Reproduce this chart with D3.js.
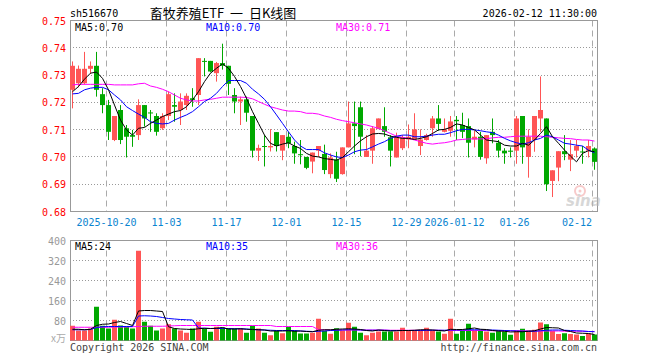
<!DOCTYPE html>
<html>
<head>
<meta charset="utf-8">
<script src="https://cdn.jsdelivr.net/npm/d3@7"></script>
<style>
  body { margin: 0; background: #fff; }
  svg text { font-family: "DejaVu Sans Mono", monospace; font-size: 10px; }
</style>
</head>
<body>
<svg id="chart" width="660" height="360"></svg>
<script>
// Trading days shown
const dates = [
  "2025-10-10","2025-10-13","2025-10-14","2025-10-15","2025-10-16","2025-10-17","2025-10-20","2025-10-21","2025-10-22","2025-10-23",
  "2025-10-24","2025-10-27","2025-10-28","2025-10-29","2025-10-30","2025-10-31","2025-11-03","2025-11-04","2025-11-05","2025-11-06",
  "2025-11-07","2025-11-10","2025-11-11","2025-11-12","2025-11-13","2025-11-14","2025-11-17","2025-11-18","2025-11-19","2025-11-20",
  "2025-11-21","2025-11-24","2025-11-25","2025-11-26","2025-11-27","2025-11-28","2025-12-01","2025-12-02","2025-12-03","2025-12-04",
  "2025-12-05","2025-12-08","2025-12-09","2025-12-10","2025-12-11","2025-12-12","2025-12-15","2025-12-16","2025-12-17","2025-12-18",
  "2025-12-19","2025-12-22","2025-12-23","2025-12-24","2025-12-25","2025-12-26","2025-12-29","2025-12-30","2025-12-31","2026-01-05",
  "2026-01-06","2026-01-07","2026-01-08","2026-01-09","2026-01-12","2026-01-13","2026-01-14","2026-01-15","2026-01-16","2026-01-19",
  "2026-01-20","2026-01-21","2026-01-22","2026-01-23","2026-01-26","2026-01-27","2026-01-28","2026-01-29","2026-01-30","2026-02-02",
  "2026-02-03","2026-02-04","2026-02-05","2026-02-06","2026-02-09","2026-02-10","2026-02-11","2026-02-12"
];

const open = [
  .7246,.7270,.7270,.7323,.7334,.7230,.7190,.7062,.7172,.7105,
  .7080,.7080,.7190,.7163,.7150,.7105,.7150,.7190,.7172,.7190,
  .7215,.7227,.7352,.7352,.7307,.7344,.7334,.7227,.7203,.7211,
  .7150,.7023,.7040,.7035,.7091,.7023,.7074,.7040,.7010,.7000,
  .6983,.7023,.7011,.6937,.6990,.6937,.7035,.7123,.7182,.7000,
  .7023,.7102,.7113,.7072,.6998,.7032,.7064,.7064,.7040,.7062,
  .7105,.7141,.7092,.7096,.7136,.7117,.7113,.7064,.7074,.6995,
  .7092,.7052,.7023,.7023,.7023,.7150,.7000,.7062,.7141,.7141,
  .6912,.6961,.7021,.6990,.7023,.7020,.7023,.7031
];
const high = [
  .7350,.7335,.7385,.7350,.7385,.7252,.7209,.7150,.7190,.7117,
  .7099,.7211,.7190,.7172,.7160,.7160,.7240,.7233,.7233,.7233,
  .7252,.7362,.7362,.7352,.7348,.7415,.7334,.7252,.7221,.7221,
  .7150,.7045,.7080,.7102,.7091,.7080,.7092,.7056,.7062,.7000,
  .7016,.7040,.7045,.7013,.7019,.7035,.7203,.7203,.7203,.7080,
  .7113,.7141,.7182,.7080,.7089,.7080,.7119,.7160,.7101,.7085,
  .7150,.7190,.7141,.7150,.7150,.7162,.7141,.7096,.7092,.7080,
  .7141,.7062,.7032,.7035,.7150,.7150,.7101,.7150,.7295,.7141,
  .6951,.7021,.7080,.7062,.7062,.7040,.7062,.7035
];
const low = [
  .7178,.7255,.7265,.7305,.7221,.7160,.7062,.7058,.7047,.6998,
  .7037,.7062,.7111,.7092,.7078,.7099,.7135,.7129,.7117,.7172,
  .7184,.7190,.7295,.7310,.7276,.7320,.7227,.7160,.7117,.7129,
  .6998,.6985,.6965,.7020,.7020,.6988,.7032,.6975,.6973,.6955,
  .6940,.7000,.6937,.6922,.6908,.6935,.7035,.7010,.7002,.7000,
  .6975,.7102,.7074,.6965,.6998,.7025,.7032,.7064,.7007,.7060,
  .7074,.7096,.7090,.7074,.7062,.7069,.6998,.7035,.6990,.6975,
  .7050,.6998,.6975,.6998,.6975,.6975,.6924,.7019,.7092,.6875,
  .6853,.6911,.6988,.6948,.6998,.6975,.6998,.6953
];
const close = [
  .7334,.7323,.7323,.7334,.7246,.7190,.7092,.7150,.7062,.7074,
  .7074,.7190,.7141,.7160,.7092,.7150,.7230,.7184,.7203,.7224,
  .7209,.7362,.7350,.7313,.7344,.7334,.7268,.7203,.7211,.7162,
  .7023,.7033,.7037,.7040,.7040,.7080,.7050,.7013,.7009,.6960,
  .7016,.7040,.6952,.6998,.6920,.7035,.7123,.7113,.7074,.7023,
  .7105,.7141,.7092,.7023,.7074,.7072,.7074,.7101,.7064,.7080,
  .7141,.7121,.7101,.7130,.7131,.7092,.7052,.7074,.7000,.7080,
  .7080,.7023,.7013,.7019,.7141,.7035,.7074,.7150,.7172,.6900,
  .6951,.7021,.7010,.7010,.7040,.7017,.7040,.6982
];

// price moving averages
const ma5 = [
  .7239,.7258,.7285,.7307,.7311,.7288,.7246,.7190,.7135,.7099,
  .7080,.7105,.7108,.7123,.7135,.7148,.7157,.7166,.7170,.7184,
  .7209,.7239,.7276,.7307,.7325,.7341,.7325,.7295,.7258,.7215,
  .7166,.7123,.7080,.7050,.7040,.7047,.7052,.7040,.7031,.7013,
  .7003,.7000,.6994,.6991,.6988,.6998,.7019,.7040,.7059,.7074,
  .7084,.7086,.7084,.7076,.7072,.7068,.7068,.7064,.7068,.7074,
  .7086,.7099,.7101,.7108,.7121,.7117,.7108,.7099,.7080,.7062,
  .7059,.7056,.7043,.7040,.7040,.7050,.7043,.7062,.7086,.7111,
  .7074,.7050,.7025,.7003,.6982,.7013,.7023,.7019
];
const ma10 = [
  .7231,.7233,.7246,.7252,.7255,.7255,.7246,.7227,.7209,.7184,
  .7170,.7157,.7145,.7129,.7123,.7121,.7123,.7135,.7145,.7154,
  .7166,.7184,.7203,.7215,.7233,.7258,.7280,.7280,.7280,.7270,
  .7248,.7231,.7211,.7184,.7154,.7123,.7092,.7062,.7040,.7027,
  .7027,.7027,.7015,.7007,.7000,.6998,.7007,.7019,.7025,.7027,
  .7037,.7047,.7056,.7068,.7076,.7080,.7080,.7074,.7074,.7076,
  .7080,.7083,.7083,.7089,.7096,.7101,.7101,.7099,.7096,.7092,
  .7089,.7080,.7068,.7059,.7052,.7047,.7052,.7062,.7068,.7080,
  .7074,.7062,.7050,.7047,.7043,.7040,.7025,.7015
];
const ma30 = [
  .7264,.7266,.7266,.7266,.7266,.7266,.7266,.7264,.7264,.7264,
  .7264,.7268,.7270,.7260,.7255,.7248,.7239,.7227,.7215,.7209,
  .7205,.7205,.7209,.7211,.7215,.7219,.7219,.7219,.7219,.7218,
  .7213,.7203,.7193,.7184,.7178,.7172,.7168,.7168,.7166,.7160,
  .7160,.7157,.7150,.7145,.7138,.7133,.7129,.7125,.7121,.7117,
  .7111,.7105,.7096,.7086,.7076,.7072,.7068,.7062,.7056,.7050,
  .7047,.7050,.7052,.7056,.7062,.7064,.7066,.7066,.7066,.7067,
  .7070,.7072,.7072,.7074,.7076,.7076,.7076,.7076,.7076,.7074,
  .7072,.7070,.7068,.7067,.7064,.7062,.7062,.7058
];

// volume (万手) and its moving averages
const volume = [
  59,40,40,48,135,59,48,83,60,56,
  48,359,75,59,40,48,65,48,40,31,
  48,75,48,35,55,52,48,48,48,31,
  59,48,31,21,39,29,55,39,28,28,
  31,87,39,27,49,40,71,55,31,21,
  31,36,36,36,36,51,40,40,40,51,
  40,36,27,87,27,40,67,40,40,36,
  31,40,36,23,40,47,40,43,72,65,
  38,26,29,26,24,18,28,24
];
const vma5 = [
  45,45,43,45,60,65,66,72,76,68,
  60,118,120,120,118,116,55,48,46,45,
  44,47,49,48,49,52,46,46,47,45,
  44,43,42,38,38,38,39,37,38,36,
  35,41,43,43,45,46,47,46,44,40,
  38,42,40,38,39,40,40,41,43,43,
  42,40,38,45,44,44,47,50,45,44,
  40,38,37,34,35,35,37,39,46,52,
  51,50,40,36,30,29,28,24
];
const vma10 = [
  43,43,43,44,52,55,56,56,56,56,
  56,98,99,98,96,92,88,86,84,83,
  82,50,49,48,48,48,48,47,47,46,
  44,43,42,41,40,40,40,40,38,37,
  36,37,38,40,41,42,43,43,42,41,
  41,41,41,40,40,40,40,40,40,41,
  41,41,41,42,42,42,43,43,43,42,
  42,41,40,39,38,37,37,37,39,41,
  42,42,41,40,39,38,36,35
];
const vma30 = [
  53,53,53,53,53,53,53,54,54,54,
  55,56,57,57,57,57,58,59,60,60,
  60,60,60,60,60,60,60,60,60,60,
  60,60,60,60,56,56,56,56,56,56,
  56,43,43,42,42,42,42,42,42,42,
  42,42,42,41,41,41,41,41,41,41,
  41,41,40,40,40,40,40,40,40,40,
  39,39,39,39,39,39,38,38,38,38,
  38,38,37,37,37,37,36,36
];

const priceTicks = [0.75, 0.74, 0.73, 0.72, 0.71, 0.70, 0.69, 0.68];
const volTicks = [400, 320, 240, 160, 80];
const dateTicks = [
  { d: "2025-10-20", label: "2025-10-20" },
  { d: "2025-11-03", label: "11-03" },
  { d: "2025-11-17", label: "11-17" },
  { d: "2025-12-01", label: "12-01" },
  { d: "2025-12-15", label: "12-15" },
  { d: "2025-12-29", label: "12-29" },
  { d: "2026-01-12", label: "2026-01-12" },
  { d: "2026-01-26", label: "01-26" },
  { d: "2026-02-12", label: "02-12" },
];

const UP = "#ff5555", DOWN = "#00a800";
const GRID = "#aaaaaa", FRAME = "#999999";

const svg = d3.select("#chart");
const left = 70, right = 598;

const x = d3.scaleBand().domain(dates).range([left, right]);
const yP = d3.scaleLinear().domain([0.68, 0.75]).range([211.5, 20.5]);
const yV = d3.scaleLinear().domain([0, 400]).range([340.5, 240.5]);

const rows = dates.map((d, i) => ({
  d, o: open[i], h: high[i], l: low[i], c: close[i], v: volume[i],
}));
const colorOf = (r) => (r.c >= r.o ? UP : DOWN);
const cx = (d) => x(d) + 2.5;
const snap = (v) => Math.round(v - 0.5) + 0.5;

// header
svg.append("text").attr("x", 70).attr("y", 17).attr("fill", "#000").text("sh516670");
svg.append("text").attr("x", 597).attr("y", 17).attr("text-anchor", "end").attr("fill", "#000")
  .text("2026-02-12 11:30:00");
svg.append("text").attr("x", 223).attr("y", 18).attr("text-anchor", "middle")
  .style("font-family", "'Noto Sans CJK SC', sans-serif").style("font-size", "13px")
  .style("white-space", "pre")
  .attr("fill", "#000").text("畜牧养殖ETF  一  日K线图");

function drawPanel(y, ticks, top, bottom, labelColor, fmt) {
  const g = svg.append("g");
  // horizontal dotted grid
  g.selectAll("line.h").data(ticks.filter((t) => snap(y(t)) > top + 1 && snap(y(t)) < bottom - 1))
    .enter().append("line")
    .attr("x1", left).attr("x2", 598)
    .attr("y1", (t) => snap(y(t))).attr("y2", (t) => snap(y(t)))
    .attr("stroke", FRAME).attr("stroke-dasharray", "1,2");
  // vertical dashed grid
  g.selectAll("line.v").data(dateTicks).enter().append("line")
    .attr("x1", (t) => x(t.d) + 0.5).attr("x2", (t) => x(t.d) + 0.5)
    .attr("y1", top).attr("y2", bottom)
    .attr("stroke", GRID).attr("stroke-dasharray", "6,4");
  // frame
  g.append("rect").attr("x", 70.5).attr("y", top).attr("width", 527).attr("height", bottom - top)
    .attr("fill", "none").attr("stroke", FRAME);
  // tick labels
  g.selectAll("text.t").data(ticks).enter().append("text")
    .attr("x", 66).attr("y", (t) => y(t) + 4)
    .attr("text-anchor", "end").attr("fill", labelColor)
    .text(fmt);
  return g;
}

drawPanel(yP, priceTicks, 20.5, 211.5, "#ff0000", (t) => t.toFixed(2));
drawPanel(yV, volTicks, 240.5, 340.5, "#999999", (t) => t);

// sina mark
const logo = svg.append("g").attr("opacity", 0.55);
logo.append("circle").attr("cx", 580).attr("cy", 191).attr("r", 5).attr("fill", "none")
  .attr("stroke", "#f3a0a0").attr("stroke-width", 2);
logo.append("circle").attr("cx", 580).attr("cy", 191).attr("r", 1.5).attr("fill", "#f3a0a0");
logo.append("text").attr("x", 566).attr("y", 206)
  .style("font-family", "'DejaVu Sans', sans-serif").style("font-size", "15px")
  .style("font-weight", "bold").style("font-style", "italic")
  .attr("fill", "#b8b8b8").text("sina");

// candles
const candles = svg.append("g");
candles.selectAll("line").data(rows).enter().append("line")
  .attr("x1", (r) => cx(r.d)).attr("x2", (r) => cx(r.d))
  .attr("y1", (r) => yP(r.h)).attr("y2", (r) => yP(r.l))
  .attr("stroke", colorOf).attr("stroke-width", 1);
candles.selectAll("rect").data(rows).enter().append("rect")
  .attr("x", (r) => x(r.d)).attr("width", 5)
  .attr("y", (r) => yP(Math.max(r.o, r.c)))
  .attr("height", (r) => Math.max(1, Math.abs(yP(r.o) - yP(r.c))))
  .attr("fill", colorOf);

// volume bars
svg.append("g").selectAll("rect").data(rows).enter().append("rect")
  .attr("x", (r) => x(r.d)).attr("width", 5)
  .attr("y", (r) => yV(r.v)).attr("height", (r) => 340.5 - yV(r.v))
  .attr("fill", colorOf);

// moving average lines
function drawLine(values, y, color) {
  const line = d3.line().x((v, i) => cx(dates[i])).y((v) => y(v));
  svg.append("path").datum(values).attr("d", line)
    .attr("fill", "none").attr("stroke", color).attr("stroke-width", 1);
}
drawLine(ma30, yP, "#ff00ff");
drawLine(ma10, yP, "#0000ff");
drawLine(ma5, yP, "#000000");
drawLine(vma30, yV, "#ff00ff");
drawLine(vma10, yV, "#0000ff");
drawLine(vma5, yV, "#000000");

// legends
const last = dates.length - 1;
const legend = [
  { x: 75, c: "#000000", t: "MA5:" + ma5[last].toFixed(2), vt: "MA5:" + vma5[last] },
  { x: 206, c: "#0000ff", t: "MA10:" + ma10[last].toFixed(2), vt: "MA10:" + vma10[last] },
  { x: 336, c: "#ff00ff", t: "MA30:" + ma30[last].toFixed(2), vt: "MA30:" + vma30[last] },
];
svg.selectAll("text.lp").data(legend).enter().append("text")
  .attr("x", (e) => e.x).attr("y", 31).attr("fill", (e) => e.c).text((e) => e.t);
svg.selectAll("text.lv").data(legend).enter().append("text")
  .attr("x", (e) => e.x).attr("y", 250).attr("fill", (e) => e.c).text((e) => e.vt);

// date labels
svg.selectAll("text.dt").data(dateTicks).enter().append("text")
  .attr("x", (t) => Math.min(x(t.d) + 0.5, 592 - t.label.length * 3))
  .attr("y", 226).attr("text-anchor", "middle").attr("fill", "#0a84d0")
  .text((t) => t.label);

// footer
svg.append("text").attr("x", 66).attr("y", 342).attr("text-anchor", "end")
  .style("font-family", "'Noto Sans CJK SC', sans-serif").style("font-size", "10px")
  .attr("fill", "#aaaaaa").text("x万");
svg.append("text").attr("x", 70).attr("y", 351).attr("fill", "#444").text("Copyright 2026 SINA.COM");
svg.append("text").attr("x", 597).attr("y", 351).attr("text-anchor", "end").attr("fill", "#444")
  .text("http://finance.sina.com.cn");
</script>
</body>
</html>
